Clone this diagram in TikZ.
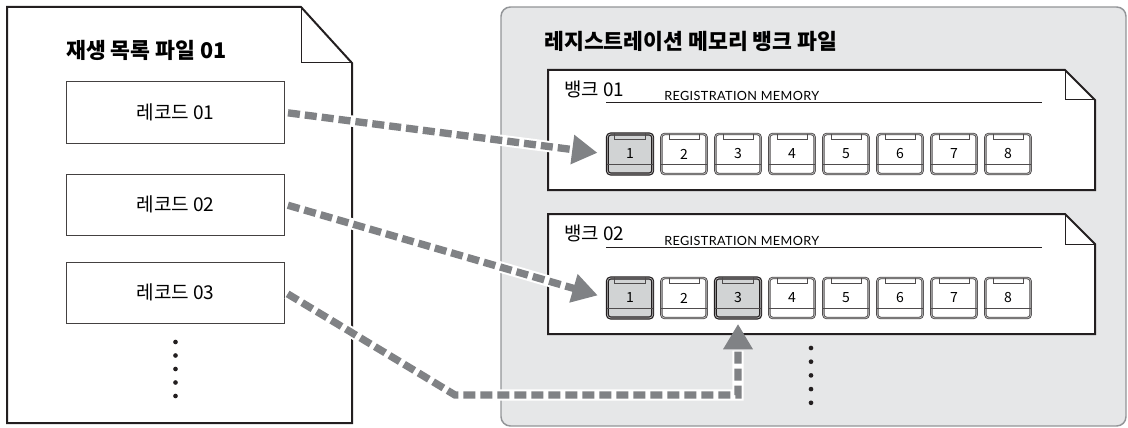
\documentclass[tikz,border=0pt]{standalone}
\usepackage{fontspec}
\setmainfont{Noto Sans CJK KR}
\newfontfamily\capsfont[LetterSpace=3]{Lato}
\usetikzlibrary{positioning, arrows.meta, calc}
\definecolor{inkdark}{HTML}{231F20}
\definecolor{panelfill}{HTML}{E6E7E8}
\definecolor{panelline}{HTML}{939598}
\definecolor{linkgray}{HTML}{808285}
\definecolor{keyfill}{HTML}{D1D3D4}

\begin{document}
\begin{tikzpicture}[x=0.75pt, y=-0.75pt,
    doc/.style={draw=inkdark, line width=1.5pt, fill=white, line join=miter},
    fold/.style={draw=inkdark, line width=0.75pt},
    record/.style={rectangle, draw=inkdark!85, line width=0.75pt, fill=white,
                   minimum width=164pt, minimum height=45.75pt,
                   font=\fontsize{14.3}{16}\selectfont},
    title/.style={anchor=west, inner sep=0pt, font=\fontsize{16.2}{19}\selectfont\bfseries},
    banktitle/.style={anchor=west, inner sep=0pt, font=\fontsize{14.2}{16}\selectfont},
    regtext/.style={anchor=base west, inner sep=0pt, font=\capsfont\fontsize{9.5}{11}\selectfont},
    key/.style={rectangle, rounded corners=2.5pt, draw=inkdark!80, line width=0.65pt,
                double=gray!45, double distance=0.5pt, fill=white,
                minimum width=34pt, minimum height=30pt, inner sep=0pt,
                font=\fontsize{10.5}{12}\selectfont},
    keyon/.style={key, fill=keyfill, draw=inkdark, line width=0.9pt},
    sel 11/.style={keyon}, sel 21/.style={keyon}, sel 23/.style={keyon},
    keypart/.style={draw=inkdark!80, line width=0.6pt},
    link/.style={draw=linkgray, line width=5.5pt, dash pattern=on 9pt off 3.75pt,
                 -{Triangle[length=19pt, width=21pt]}, shorten <=2pt, shorten >=7pt,
                 preaction={draw=white, line width=8.5pt, solid, arrows=-, shorten >=24pt}},
    dot/.style={circle, fill=inkdark, inner sep=0pt, minimum size=3.5pt}
  ]
    \useasboundingbox (0,0) rectangle (1128,428);

    % playlist file
    \draw[doc] (7,7) -- (301,7) -- (352,63) -- (352,423) -- (7,423) -- cycle;
    \draw[fold] (301,7) |- (352,63);
    \node[title] (lsttitle) at (66,50) {재생 목록 파일 01};
    \node[record] (rec1) at (175.5,112.5) {레코드 01};
    \node[record, below=22.5pt of rec1] (rec2) {레코드 02};
    \node[record, below=19.5pt of rec2] (rec3) {레코드 03};
    \foreach \k in {0,...,4}
      \node[dot] (ldot\k) at (175.5,342+13.5*\k) {};

    % registration memory bank file
    \draw[draw=panelline, fill=panelfill, line width=1.1pt, rounded corners=7pt]
      (501,7) rectangle (1126,426);
    \node[title] (regtitle) at (544,41) {레지스트레이션 메모리 뱅크 파일};

    \foreach \b/\t in {1/70, 2/214} {
      \draw[doc] (548,\t) -- (1065,\t) -- (1095,\t+30) -- (1095,\t+120) -- (548,\t+120) -- cycle;
      \draw[fold] (1065,\t) |- (1095,\t+30);
      \node[banktitle] (bank\b) at (564,\t+19) {뱅크 0\b};
      \node[regtext] (reg\b) at (664,\t+31) {REGISTRATION MEMORY};
      \draw[inkdark, line width=0.75pt] (606,\t+33) -- (1042,\t+33);
      \foreach \i in {1,...,8} {
        \node[key, sel \b\i/.try] (b\b-\i) at (630+54*\i-54,\t+84) {\i};
        \draw[keypart] ([xshift=6pt]b\b-\i.north west) -- ++(0,-4.5pt)
          -| ([xshift=-6pt]b\b-\i.north east);
        \draw[keypart] ([yshift=7.5pt]b\b-\i.south west) -- ([yshift=7.5pt]b\b-\i.south east);
      }
    }
    \foreach \k in {0,...,4}
      \node[dot] (rdot\k) at (811,348+13.7*\k) {};

    % links
    \coordinate (turn) at (455,395);
    \draw[link] (rec1.east) -- (b1-1.west);
    \draw[link] (rec2.east) -- (b2-1.west);
    \draw[link, shorten >=4pt] (rec3.east) -- (turn) -| (b2-3.south);
\end{tikzpicture}
\end{document}
